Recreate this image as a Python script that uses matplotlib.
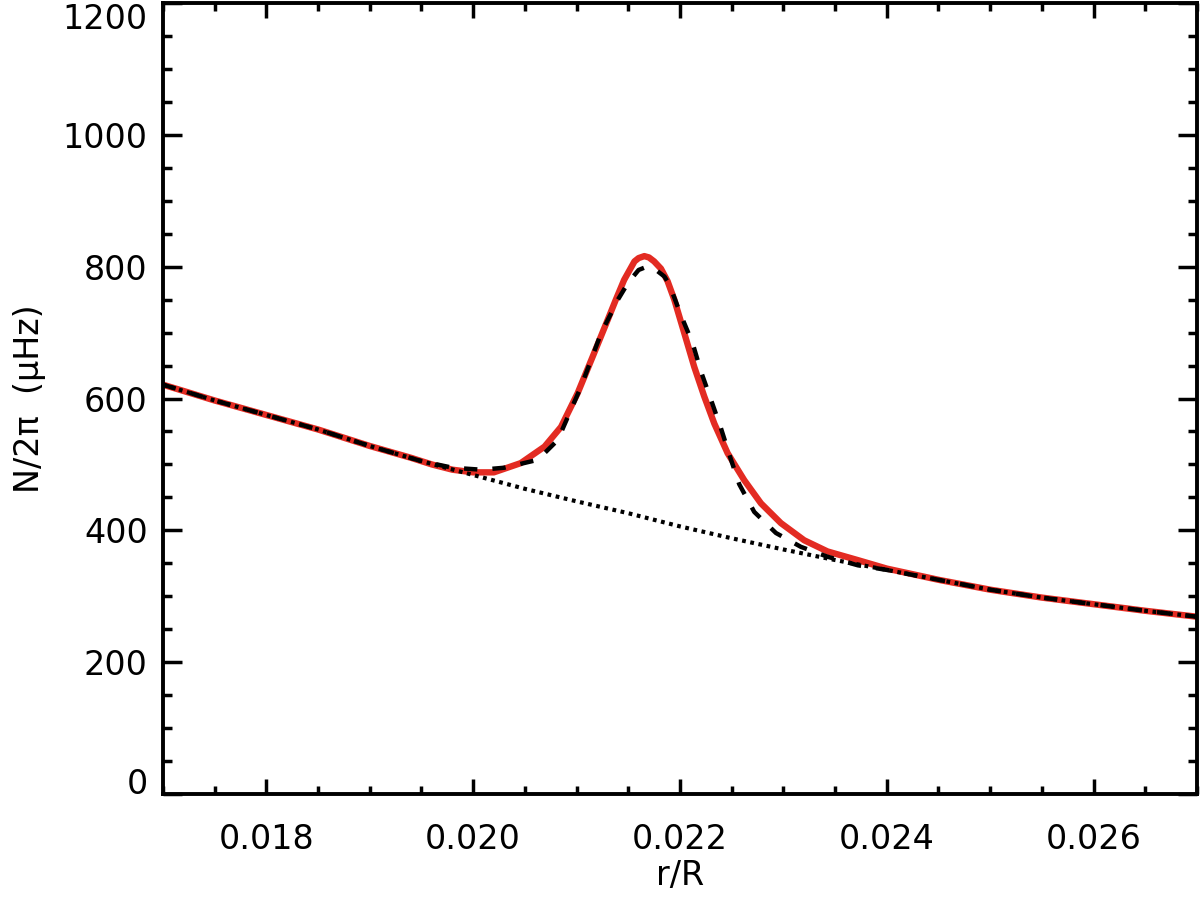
import matplotlib
matplotlib.use("Agg")
import matplotlib.pyplot as plt
from matplotlib.ticker import MultipleLocator, FormatStrFormatter

# background profile (dotted)
r_bg = [0.0170, 0.0175, 0.0180, 0.0185, 0.0190, 0.0195, 0.0200, 0.0205, 0.0210,
        0.0215, 0.0220, 0.0225, 0.0230, 0.0235, 0.0240, 0.0245, 0.0250, 0.0255,
        0.0260, 0.0265, 0.0270]
n_bg = [621, 597, 575, 553, 528, 505, 484, 463, 444,
        426, 406, 388, 371, 355, 340, 325, 310, 298,
        288, 278, 269]

# model with glitch (dashed)
r_dash = [0.0170, 0.0175, 0.0180, 0.0185, 0.0190, 0.0195, 0.0198, 0.02008, 0.0203,
          0.020625, 0.020818, 0.021043, 0.021237, 0.0214, 0.0215, 0.0216, 0.02168,
          0.02176, 0.02185, 0.0219, 0.02201, 0.022122, 0.022203, 0.0223, 0.022396,
          0.022477, 0.022573, 0.022718, 0.022928, 0.023169, 0.023427, 0.02372,
          0.0240, 0.0245, 0.0250, 0.0255, 0.0260, 0.0265, 0.0270]
n_dash = [621, 597, 575, 553, 528, 505, 495, 492, 495,
          507, 537, 618, 699, 750, 776, 795, 800,
          796, 785, 772, 726, 684, 641, 598, 555,
          515, 470, 428, 396, 375, 360, 347,
          340, 325, 310, 298, 288, 278, 269]

# fitted profile (red)
r_fit = [0.0170, 0.0175, 0.0180, 0.0185, 0.0190, 0.0194, 0.0196, 0.0198, 0.0200,
         0.0202, 0.02046, 0.02069, 0.02085, 0.02101, 0.02117, 0.02130, 0.02138,
         0.02146, 0.02156, 0.02160, 0.021655, 0.02170, 0.02175, 0.021816, 0.02188,
         0.021945, 0.022042, 0.022138, 0.022235, 0.022332, 0.022461, 0.022622,
         0.022783, 0.022976, 0.023201, 0.023427, 0.023717, 0.0240, 0.0245,
         0.0250, 0.0255, 0.0260, 0.0265, 0.0270]
n_fit = [621, 597, 575, 553, 528, 510, 500, 492, 488,
         488, 502, 527, 557, 608, 669, 719, 750,
         780, 808, 813, 816, 814, 808, 797, 778,
         750, 699, 648, 603, 562, 517, 476,
         441, 411, 385, 368, 355, 342, 325,
         310, 298, 288, 278, 269]

xticks = [0.018, 0.020, 0.022, 0.024, 0.026]
yticks = [0, 200, 400, 600, 800, 1000, 1200]

fig = plt.figure(figsize=(12, 9.01), dpi=100)
ax = fig.add_axes([0.1358, 0.1187, 0.9975 - 0.1358, 0.9967 - 0.1187])

ax.plot(r_fit, n_fit, color='#e32b22', lw=4.6, solid_capstyle='round',
        solid_joinstyle='round', zorder=2)
ax.plot(r_dash, n_dash, color='black', lw=3.2, linestyle=(0, (3.0, 3.4)), zorder=3)
ax.plot(r_bg, n_bg, color='black', lw=3.0, linestyle=(0, (0.9, 1.1)), zorder=4)

ax.set_xlim(0.017, 0.027)
ax.set_ylim(0, 1200)
ax.set_xticks(xticks)
ax.set_yticks(yticks)
ax.xaxis.set_major_formatter(FormatStrFormatter('%.3f'))
ax.xaxis.set_minor_locator(MultipleLocator(0.0005))
ax.yaxis.set_minor_locator(MultipleLocator(50))

for s in ax.spines.values():
    s.set_linewidth(2.8)

ax.tick_params(axis='x', which='major', direction='in', length=11, width=2.5,
               top=True, bottom=True, labelsize=24, pad=21)
ax.tick_params(axis='x', which='minor', direction='in', length=6, width=2.5,
               top=True, bottom=True)
ax.tick_params(axis='y', which='major', direction='in', length=14, width=2.5,
               left=True, right=True, labelsize=24, pad=11)
ax.tick_params(axis='y', which='minor', direction='in', length=6.5, width=2.5,
               left=True, right=True)

fig.canvas.draw()
ylabels = ax.get_yticklabels()
ylabels[0].set_verticalalignment('baseline')
ylabels[-1].set_verticalalignment('top')

ax.set_xlabel('r/R', fontsize=24, labelpad=2)
ax.set_ylabel('N/2\u03c0  (\u03bcHz)', fontsize=24, labelpad=12)

fig.savefig('out.png', dpi=100)
